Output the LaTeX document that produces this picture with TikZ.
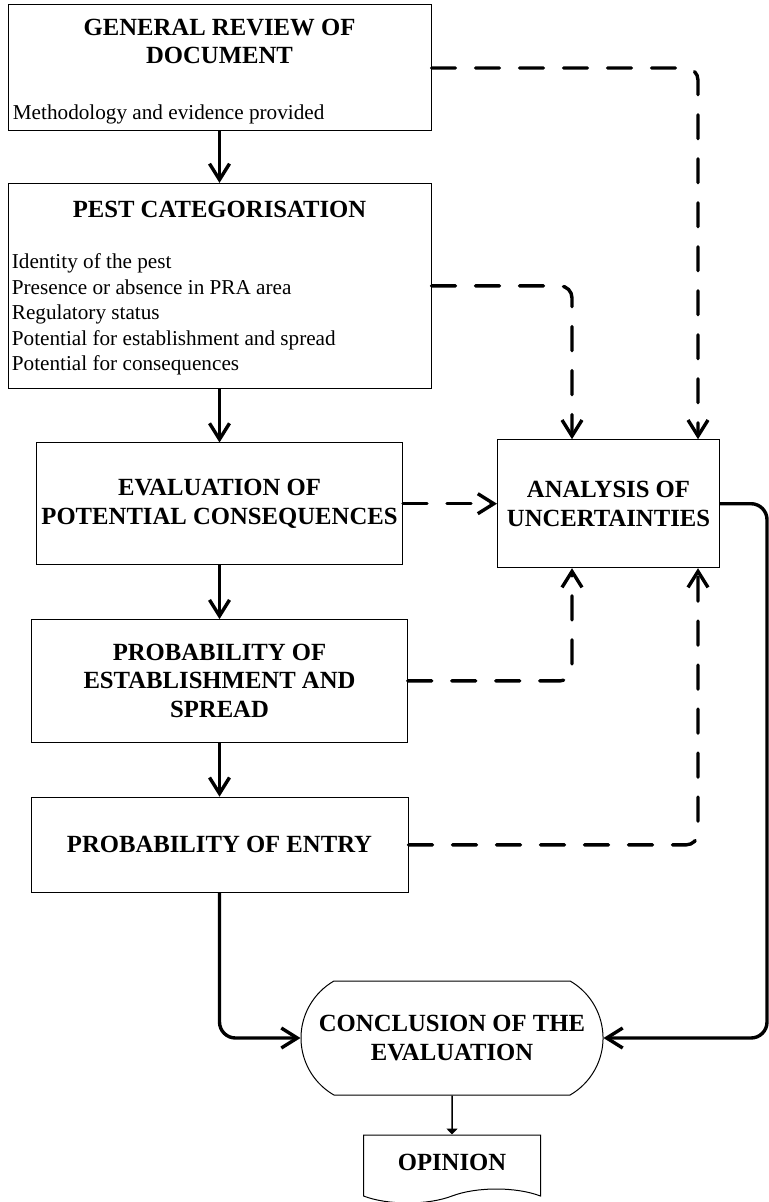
\documentclass[tikz,border=0pt]{standalone}
\usepackage{fontspec}
\setmainfont{Liberation Serif}
\usetikzlibrary{shapes.geometric, shapes.misc, shapes.symbols, arrows.meta, positioning}

\begin{document}
\begin{tikzpicture}[x=0.5pt, y=-0.5pt, box/.style={rectangle, draw, line width=0.5pt, inner sep=2pt, align=center, font=\fontsize{12.35}{14.4}\selectfont\bfseries}, title/.style={inner sep=0pt, align=center, font=\fontsize{12.35}{14.2}\selectfont\bfseries}, items/.style={inner sep=0pt, align=left, font=\fontsize{10.6}{12.75}\selectfont}, arrow/.style={-{Straight Barb[length=8pt,width=10pt]}, line width=1.7pt}, dasharrow/.style={arrow, dash pattern=on 12pt off 10pt, line cap=round, rounded corners=6pt}, thinarrow/.style={-{Triangle[length=3pt,width=5.5pt]}, line width=0.75pt}]
\useasboundingbox (0,0) rectangle (769,1202);
\node[box, minimum width=211.5pt, minimum height=63pt] (rev) at (219.5,68) {};
\node[title, below=7pt of rev.north] (revt) {GENERAL REVIEW OF\\DOCUMENT};
\node[items, anchor=south west] (revb) at ([xshift=2.5pt, yshift=3.5pt]rev.south west) {Methodology and evidence provided};
\node[box, minimum width=211.5pt, minimum height=102.5pt, below=25.7pt of rev] (pest) {};
\node[title, below=8.85pt of pest.north] (pestt) {PEST CATEGORISATION};
\node[items, anchor=south west] (pestb) at ([xshift=2pt, yshift=6.5pt]pest.south west) {Identity of the pest\\Presence or absence in PRA area\\Regulatory status\\Potential for establishment and spread\\Potential for consequences};
\node[box, minimum width=183pt, minimum height=60.7pt, below=26.8pt of pest] (eval) {EVALUATION OF\\POTENTIAL CONSEQUENCES};
\node[box, minimum width=187.7pt, minimum height=61.3pt, below=27.1pt of eval] (estab) {PROBABILITY OF\\ESTABLISHMENT AND\\SPREAD};
\node[box, minimum width=188.5pt, minimum height=47.7pt, below=27pt of estab] (entry) {PROBABILITY OF ENTRY};
\node[box, minimum width=111pt, minimum height=64pt, right=47pt of eval] (ana) {ANALYSIS OF\\UNCERTAINTIES};
\node[box, rounded rectangle, rounded rectangle arc length=120, minimum width=155pt, minimum height=57pt] (concl) at (452,1038) {CONCLUSION OF THE\\EVALUATION};
\node[box, tape, tape bend top=none, tape bend bottom=in and out, tape bend height=7pt, minimum width=88.5pt, minimum height=34pt, below=19.5pt of concl] (opin) {OPINION};
\draw[arrow] (rev) -- (pest);
\draw[arrow] (pest) -- (eval);
\draw[arrow] (eval) -- (estab);
\draw[arrow] (estab) -- (entry);
\draw[arrow, rounded corners=8pt] (entry) |- (concl);
\draw[arrow, rounded corners=8pt] (ana.east) -- ++(47,0) |- (concl.east);
\draw[thinarrow] (concl) -- (opin);
\draw[dasharrow] (rev.east) -| ([xshift=-11pt]ana.north east);
\draw[dasharrow] (pest.east) -| ([xshift=37.5pt]ana.north west);
\draw[dasharrow] (eval) -- (ana);
\draw[dasharrow] (estab.east) -| ([xshift=37.5pt]ana.south west);
\draw[dasharrow] (entry.east) -| ([xshift=-11pt]ana.south east);
\end{tikzpicture}
\end{document}
